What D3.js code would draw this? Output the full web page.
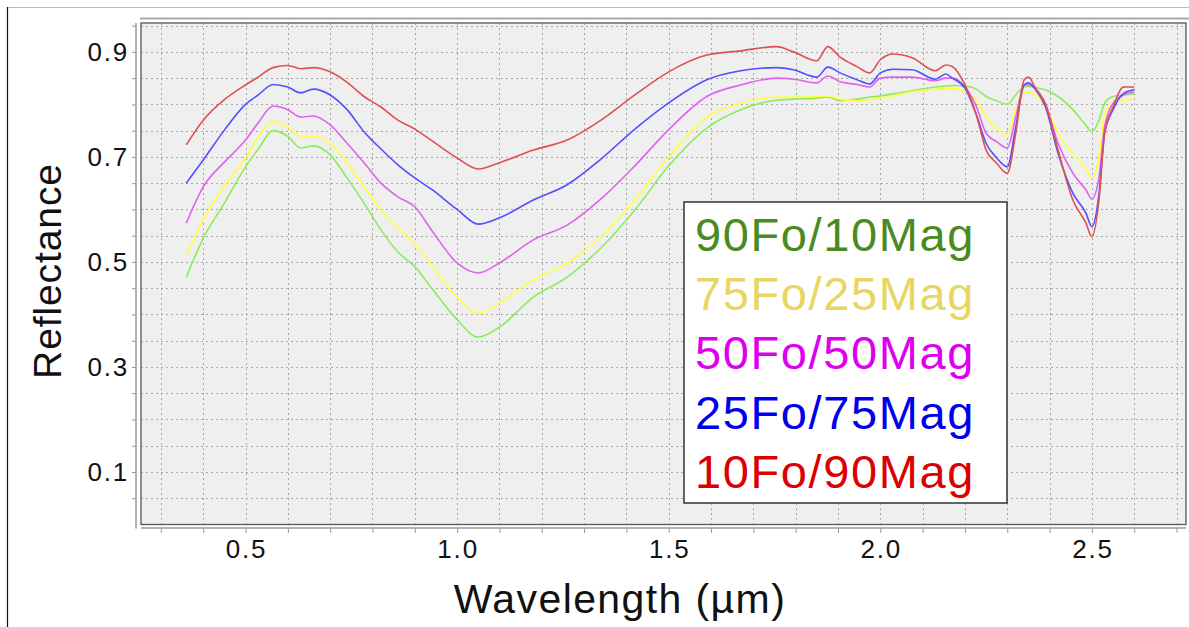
<!DOCTYPE html>
<html>
<head>
<meta charset="utf-8">
<script src="https://cdn.jsdelivr.net/npm/d3@7"></script>
<style>
  body { margin: 0; background: #fff; }
  svg { display: block; font-family: "Liberation Sans", Arial, Helvetica, sans-serif; }
</style>
</head>
<body>
<svg id="chart" width="1189" height="627"></svg>
<script>
// wavelength samples (um), shared by every spectrum
var wavelengths = [0.36, 0.40, 0.45, 0.50, 0.53, 0.565, 0.60, 0.63, 0.66, 0.70, 0.74, 0.78, 0.82, 0.86, 0.90, 0.94,
  1.00, 1.05, 1.10, 1.18, 1.26, 1.34, 1.42, 1.50, 1.59, 1.67, 1.755, 1.795, 1.85, 1.876, 1.905, 1.945, 1.975,
  2.00, 2.03, 2.075, 2.13, 2.155, 2.17, 2.20, 2.227, 2.25, 2.275, 2.30, 2.32, 2.34, 2.35, 2.367, 2.39, 2.42,
  2.455, 2.486, 2.50, 2.517, 2.53, 2.55, 2.575, 2.60];

var fo90 = [0.471, 0.545, 0.612, 0.681, 0.715, 0.750, 0.739, 0.717, 0.721, 0.704, 0.660, 0.612, 0.561, 0.519, 0.491, 0.450,
  0.390, 0.357, 0.376, 0.433, 0.471, 0.527, 0.599, 0.683, 0.755, 0.790, 0.808, 0.810, 0.812, 0.814, 0.807, 0.810, 0.814,
  0.816, 0.820, 0.826, 0.833, 0.835, 0.836, 0.835, 0.829, 0.815, 0.807, 0.800, 0.818, 0.833, 0.834, 0.832, 0.828, 0.815,
  0.790, 0.760, 0.748, 0.770, 0.802, 0.815, 0.818, 0.820];
var fo75 = [0.511, 0.580, 0.645, 0.697, 0.738, 0.767, 0.757, 0.738, 0.740, 0.726, 0.689, 0.643, 0.599, 0.565, 0.536, 0.494,
  0.433, 0.402, 0.422, 0.466, 0.498, 0.548, 0.618, 0.700, 0.776, 0.802, 0.814, 0.814, 0.815, 0.816, 0.810, 0.807, 0.809,
  0.812, 0.816, 0.824, 0.829, 0.831, 0.831, 0.824, 0.809, 0.776, 0.755, 0.742, 0.790, 0.824, 0.822, 0.818, 0.796, 0.745,
  0.707, 0.678, 0.660, 0.700, 0.783, 0.802, 0.809, 0.810];
var fo50 = [0.574, 0.643, 0.690, 0.732, 0.765, 0.797, 0.790, 0.776, 0.778, 0.761, 0.726, 0.689, 0.650, 0.624, 0.605, 0.560,
  0.498, 0.479, 0.498, 0.542, 0.570, 0.620, 0.683, 0.752, 0.815, 0.837, 0.850, 0.848, 0.841, 0.854, 0.843, 0.838, 0.833,
  0.850, 0.852, 0.852, 0.845, 0.850, 0.850, 0.833, 0.796, 0.745, 0.729, 0.717, 0.776, 0.837, 0.837, 0.830, 0.802, 0.726,
  0.669, 0.637, 0.620, 0.662, 0.757, 0.802, 0.818, 0.824];
var fo25 = [0.650, 0.694, 0.751, 0.800, 0.818, 0.838, 0.833, 0.822, 0.829, 0.818, 0.790, 0.748, 0.715, 0.685, 0.660, 0.638,
  0.600, 0.572, 0.584, 0.618, 0.647, 0.696, 0.753, 0.803, 0.847, 0.864, 0.870, 0.866, 0.852, 0.871, 0.860, 0.847, 0.839,
  0.860, 0.867, 0.866, 0.848, 0.858, 0.850, 0.831, 0.780, 0.726, 0.698, 0.681, 0.757, 0.837, 0.841, 0.828, 0.796, 0.707,
  0.631, 0.593, 0.567, 0.631, 0.745, 0.790, 0.821, 0.828];
var fo10 = [0.723, 0.770, 0.809, 0.837, 0.852, 0.870, 0.874, 0.868, 0.870, 0.862, 0.842, 0.815, 0.795, 0.770, 0.753, 0.731,
  0.698, 0.677, 0.689, 0.713, 0.732, 0.770, 0.818, 0.862, 0.894, 0.902, 0.910, 0.900, 0.883, 0.910, 0.890, 0.872, 0.860,
  0.885, 0.896, 0.889, 0.864, 0.875, 0.872, 0.837, 0.780, 0.713, 0.688, 0.669, 0.745, 0.847, 0.852, 0.830, 0.800, 0.713,
  0.618, 0.574, 0.548, 0.620, 0.745, 0.795, 0.833, 0.833];

var labels = ["90Fo/10Mag", "75Fo/25Mag", "50Fo/50Mag", "25Fo/75Mag", "10Fo/90Mag"];
var spectra = [fo90, fo75, fo50, fo25, fo10];
var lineColors = ["#8cec5c", "#ffff40", "#e060f0", "#5050ff", "#e05050"];
var textColors = ["#4a8a22", "#e8d660", "#dd00ee", "#0000ee", "#dd0000"];

var yTickLabels = [0.1, 0.3, 0.5, 0.7, 0.9];
var xTickLabels = [0.5, 1.0, 1.5, 2.0, 2.5];

var svg = d3.select("#chart");
// plot box (note: "top" is taken by window.top, so prefixed names)
var pLeft = 141, pRight = 1186, pTop = 23, pBottom = 524.5;

var x = d3.scaleLinear().domain([0.253, 2.72]).range([pLeft, pRight - 1]);
var y = d3.scaleLinear().domain([0, 0.955]).range([pBottom, pTop]);

// window frame bits
svg.append("line").attr("x1", 7).attr("x2", 1189).attr("y1", 7.5).attr("y2", 7.5)
  .attr("stroke", "#bbb").attr("stroke-width", 1);
svg.append("line").attr("x1", 7.5).attr("x2", 7.5).attr("y1", 7).attr("y2", 627)
  .attr("stroke", "#111").attr("stroke-width", 1.2);
svg.append("line").attr("x1", 140).attr("x2", 1189).attr("y1", 18.5).attr("y2", 18.5)
  .attr("stroke", "#aaa").attr("stroke-width", 2);

// plot background
svg.append("rect").attr("x", pLeft).attr("y", pTop).attr("width", pRight - pLeft).attr("height", pBottom - pTop)
  .attr("fill", "#efefef");

// grid
var xGrid = d3.range(3, 28).map(function(i){ return i / 10; });
var yGrid = d3.range(1, 20).map(function(i){ return i * 0.05; });
var grid = svg.append("g").attr("stroke", "#a8a8a8").attr("stroke-width", 1).attr("stroke-dasharray", "2,3");
grid.selectAll(".gx").data(xGrid).enter().append("line")
  .attr("x1", function(d){ return Math.round(x(d)) + 0.5; })
  .attr("x2", function(d){ return Math.round(x(d)) + 0.5; })
  .attr("y1", pTop).attr("y2", pBottom);
grid.selectAll(".gy").data(yGrid).enter().append("line")
  .attr("y1", function(d){ return Math.round(y(d)) + 0.5; })
  .attr("y2", function(d){ return Math.round(y(d)) + 0.5; })
  .attr("x1", pLeft).attr("x2", pRight);

// plot border
svg.append("rect").attr("x", pLeft).attr("y", pTop).attr("width", pRight - pLeft).attr("height", pBottom - pTop)
  .attr("fill", "none").attr("stroke", "#555").attr("stroke-width", 1.3);

// axes (offset a few px from the plot, ticks outward)
var xAxis = d3.axisBottom(x).tickValues(xGrid).tickSize(5).tickSizeOuter(0).tickFormat("");
var yAxis = d3.axisLeft(y).tickValues(yGrid).tickSize(4).tickSizeOuter(0).tickFormat("");
var gx = svg.append("g").attr("transform", "translate(0,528)").call(xAxis);
var gy = svg.append("g").attr("transform", "translate(136,0)").call(yAxis);
gx.select(".domain").attr("d", "M" + pLeft + ",0H" + pRight).attr("stroke", "#999").attr("stroke-width", 1.5);
gy.select(".domain").attr("d", "M0," + pTop + "V" + (pBottom + 4)).attr("stroke", "#999").attr("stroke-width", 1.5);
gx.selectAll(".tick line").attr("stroke", "#999");
gy.selectAll(".tick line").attr("stroke", "#999");

// tick labels
svg.selectAll(".xl").data(xTickLabels).enter().append("text")
  .attr("x", function(d){ return x(d) + 1; })
  .attr("y", 558)
  .attr("text-anchor", "middle")
  .attr("font-size", 26).attr("letter-spacing", 1.8)
  .attr("fill", "#111")
  .text(function(d){ return d.toFixed(1); });
svg.selectAll(".yl").data(yTickLabels).enter().append("text")
  .attr("x", 129)
  .attr("y", function(d){ return y(d) + 9; })
  .attr("text-anchor", "end")
  .attr("font-size", 26).attr("letter-spacing", 1.8)
  .attr("fill", "#111")
  .text(function(d){ return d.toFixed(1); });

// axis titles
svg.append("text").attr("x", 620).attr("y", 613).attr("text-anchor", "middle")
  .attr("font-size", 41).attr("letter-spacing", 1.4).attr("fill", "#111")
  .text("Wavelength (µm)");
svg.append("text").attr("transform", "translate(61,271) rotate(-90)").attr("text-anchor", "middle")
  .attr("font-size", 39).attr("letter-spacing", 0.9).attr("fill", "#111")
  .text("Reflectance");

// spectra
var line = d3.line()
  .x(function(d, i){ return x(wavelengths[i]); })
  .y(function(d){ return y(d); })
  .curve(d3.curveMonotoneX);
svg.append("g").selectAll("path").data(spectra).enter().append("path")
  .attr("d", line)
  .attr("fill", "none")
  .attr("stroke", function(d, i){ return lineColors[i]; })
  .attr("stroke-width", 1.6);

// legend
svg.append("rect").attr("x", 684).attr("y", 202).attr("width", 323).attr("height", 301)
  .attr("fill", "#fff").attr("stroke", "#333").attr("stroke-width", 1.5);
svg.selectAll(".leg").data(labels).enter().append("text")
  .attr("x", 695)
  .attr("y", function(d, i){ return 251 + i * 59.2; })
  .attr("font-size", 47).attr("letter-spacing", 1.6)
  .attr("fill", function(d, i){ return textColors[i]; })
  .text(function(d){ return d; });
</script>
</body>
</html>
